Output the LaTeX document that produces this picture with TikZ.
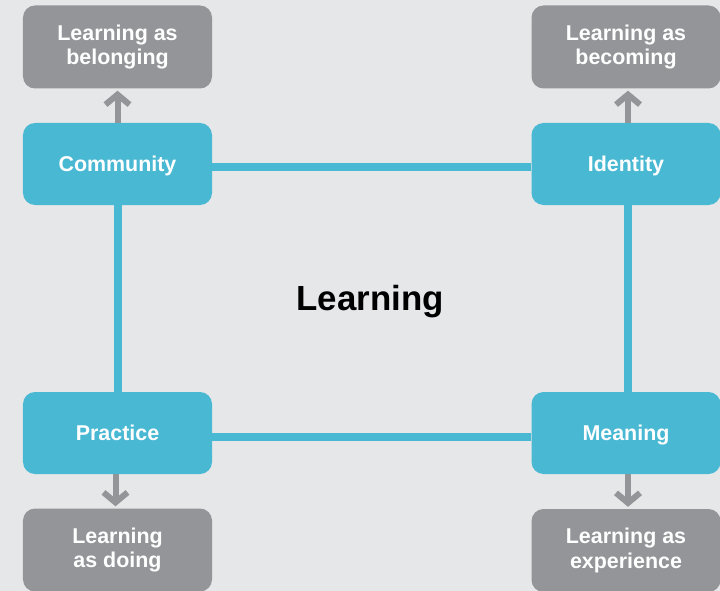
\documentclass[tikz,border=0pt]{standalone}
\usepackage{fontspec}
\setmainfont{Liberation Sans}
\usetikzlibrary{arrows.meta,backgrounds}
\definecolor{bgc}{HTML}{E6E7E8}
\definecolor{cyanbox}{HTML}{48B8D3}
\definecolor{graybox}{HTML}{939598}
\tikzset{
  concept/.style={fill=cyanbox, rounded corners=12bp, minimum width=189bp, minimum height=82bp, inner sep=0pt, text=white, font=\fontsize{21.5}{25}\selectfont\bfseries, text height=15.4bp, text depth=0pt},
  outcome/.style={fill=graybox, rounded corners=12bp, minimum width=189bp, minimum height=83bp, inner sep=0pt, text=white, font=\fontsize{21.5}{25}\selectfont\bfseries, align=center},
  link/.style={draw=cyanbox, line width=8bp},
  arr/.style={draw=graybox, line width=6bp, -{Straight Barb[length=10bp,width=24bp,line width=6bp]}, shorten >=2bp},
}
\begin{document}
\begin{tikzpicture}[x=1bp,y=-1bp]
\useasboundingbox (0,0) rectangle (720,591);
\clip (0,0) rectangle (720,591);
\node[concept] (comm) at (117.5,164) {Community};
\node[concept] (iden) at (626,164) {Identity};
\node[concept] (prac) at (117.5,433) {Practice};
\node[concept] (mean) at (626,433) {Meaning};
\node[outcome] (bel) at (117.5,47) {Learning as\\belonging};
\node[outcome] (bec) at (626,47) {Learning as\\becoming};
\node[outcome] (doi) at (117.5,550) {Learning\\as doing};
\node[outcome] (exp) at (626,550.5) {Learning as\\experience};
\node[font=\fontsize{35}{40}\selectfont\bfseries, text height=25bp, text depth=0pt, inner sep=0pt] (learn) at (370,298) {Learning};
\begin{scope}[on background layer]
\fill[bgc] (0,0) rectangle (720,591);
\draw[link] ([yshift=-3bp]comm.east) -- ([yshift=-3bp]iden.west);
\draw[link] ([yshift=-4bp]prac.east) -- ([yshift=-4bp]mean.west);
\draw[link] (comm.south) -- (prac.north);
\draw[link] ([xshift=2bp]iden.south) -- ([xshift=2bp]mean.north);
\end{scope}
\draw[arr] (comm.north) -- (bel.south);
\draw[arr] ([xshift=2bp]iden.north) -- ([xshift=2bp]bec.south);
\draw[arr] ([xshift=-2bp]prac.south) -- ([xshift=-2bp]doi.north);
\draw[arr] ([xshift=2bp]mean.south) -- ([xshift=2bp]exp.north);
\end{tikzpicture}
\end{document}
